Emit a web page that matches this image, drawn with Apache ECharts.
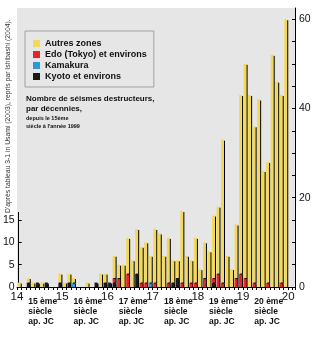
<!DOCTYPE html>
<html>
<head>
<meta charset="utf-8">
<script src="https://cdn.jsdelivr.net/npm/echarts@6/dist/echarts.min.js"></script>
<style>html,body{margin:0;padding:0;background:#fff;}#c{width:330px;height:340px;}</style>
</head>
<body>
<div id="c"></div>
<script>
// Decade start years (1400s ... 1990s)
const decades = ['1400','1410','1420','1430','1440','1450','1460','1470','1480','1490',
                 '1500','1510','1520','1530','1540','1550','1560','1570','1580','1590',
                 '1600','1610','1620','1630','1640','1650','1660','1670','1680','1690',
                 '1700','1710','1720','1730','1740','1750','1760','1770','1780','1790',
                 '1800','1810','1820','1830','1840','1850','1860','1870','1880','1890',
                 '1900','1910','1920','1930','1940','1950','1960','1970','1980','1990'];
const kyoto    = [0,0,1,0,1,0,1,0,0,1, 0,1,0,0,0,0,0,1,0,1, 1,1,0,0,0,0,3,0,0,0, 0,0,0,0,1,2,0,0,0,0, 0,0,0,1,0,0,0,0,0,0, 0,0,0,0,0,0,0,0,0,0];
const kamakura = [0,0,0,0,0,0,0,0,0,0, 0,0,1,0,0,0,0,0,0,0, 0,0,0,0,0,0,0,0,0,1, 0,0,0,0,0,0,0,0,0,0, 0,0,0,0,0,0,0,0,0,0, 0,0,0,0,0,0,0,0,0,0];
const edo      = [0,0,0,0,0,0,0,0,0,0, 0,0,0,0,0,0,0,0,0,0, 0,1,2,0,3,0,0,1,1,0, 1,0,0,1,0,0,1,0,1,1, 0,2,0,1,3,1,0,0,2,3, 2,0,1,0,0,1,0,0,1,0];
const autres   = [1,0,1,1,0,1,0,0,0,2, 1,2,1,0,0,1,0,0,3,2, 0,5,3,5,8,6,10,8,9,6, 12,12,7,10,5,4,16,7,5,10, 4,8,8,14,15,32,7,4,12,40, 48,43,35,42,26,27,52,46,42,60];

const seriesNames = ['Autres zones','Edo (Tokyo) et environs','Kamakura','Kyoto et environs'];
const centuryLabels = [1400,1500,1600,1700,1800,1900,2000];
const centuryNotePos = [1425,1525,1625,1725,1825,1925];
const centuryNotes = ['15 ème\nsiècle\nap. JC','16 ème\nsiècle\nap. JC','17 ème\nsiècle\nap. JC','18 ème\nsiècle\nap. JC','19 ème\nsiècle\nap. JC','20 ème\nsiècle\nap. JC'];
const leftTicks = [0,5,10,15];
const rightTicks = [0,5,10,15,20,25,30,35,40,45,50,55,60];
const rightLabels = [0,20,40,60];
const yMax = 62.5, leftAxisTop = 16.7;

const FONT = 'Arial, "Liberation Sans", sans-serif';
const colors = {autres:'#f2d95c', edo:'#e3242b', kamakura:'#2d9ad6', kyoto:'#1a1a1a'};

// layout (pixels)
const G = {left:17, top:8, bottom:53, right:35};
const plotH = 340 - G.top - G.bottom;

function barSeries(name, arr, color){
  return {
    name: name, type:'bar', stack:'all', xAxisIndex:2, yAxisIndex:1,
    barWidth:3, data: arr, silent:true,
    itemStyle:{color:color, shadowColor:'#000', shadowOffsetX:1, shadowOffsetY:1, shadowBlur:0}
  };
}

const chart = echarts.init(document.getElementById('c'), null, {renderer:'canvas'});
chart.setOption({
  animation:false,
  backgroundColor:'#fff',
  grid:[
    {left:G.left, right:G.right, top:G.top, bottom:G.bottom, show:true, backgroundColor:'#e6e6e6', borderWidth:0},
    {left:G.left, right:42, top:G.top, bottom:G.bottom, show:false},
    {left:G.left, width:10, top:G.top + plotH*(1 - leftAxisTop/yMax), bottom:G.bottom, show:false}
  ],
  title:{
    text:'Nombre de séismes destructeurs,\npar décennies,',
    subtext:'depuis le 15ème\nsiècle à l\'année 1999',
    left:26, top:94, padding:0, itemGap:0,
    textStyle:{fontFamily:FONT, fontSize:8, fontWeight:'bold', color:'#111', lineHeight:10},
    subtextStyle:{fontFamily:FONT, fontSize:5.5, fontWeight:'bold', color:'#111', lineHeight:8}
  },
  legend:{
    data: seriesNames.map((n,i)=>({name:n, icon:'rect', itemStyle:{color:[colors.autres,colors.edo,colors.kamakura,colors.kyoto][i], shadowBlur:0, shadowOffsetX:0, shadowOffsetY:0}})),
    orient:'vertical', left:25, top:31,
    padding:[7,7,5,8], itemGap:0, itemWidth:7, itemHeight:7,
    borderColor:'#a0a0a0', borderWidth:1, backgroundColor:'#e6e6e6',
    textStyle:{fontFamily:FONT, fontSize:9, fontWeight:'bold', color:'#111', lineHeight:11},
    selectedMode:false
  },
  xAxis:[
    {type:'value', gridIndex:0, min:1400, max:2015, interval:10, position:'bottom',
     axisLine:{show:true, lineStyle:{color:'#000', width:1}},
     axisTick:{show:true, length:3, lineStyle:{color:'#000'}},
     axisLabel:{customValues:centuryLabels, formatter:v=>String(v/100), fontFamily:FONT, fontSize:11.5, color:'#111', margin:4},
     splitLine:{show:false}},
    {type:'value', gridIndex:0, min:1400, max:2015, position:'bottom',
     axisLine:{show:false}, axisTick:{show:false},
     axisLabel:{customValues:centuryNotePos, formatter:v=>centuryNotes[centuryNotePos.indexOf(v)],
       align:'left', verticalAlign:'top', fontFamily:FONT, fontSize:8.5, fontWeight:'bold', color:'#111', lineHeight:9.7, margin:10},
     splitLine:{show:false}},
    {type:'category', gridIndex:1, data:decades, boundaryGap:true, show:false},
    {type:'value', gridIndex:2, min:0, max:1, show:false}
  ],
  yAxis:[
    {type:'value', gridIndex:0, position:'right', min:0, max:yMax,
     axisLine:{show:true, lineStyle:{color:'#000', width:1}},
     axisTick:{show:true, inside:true, length:3, customValues:rightTicks, lineStyle:{color:'#000'}},
     axisLabel:{customValues:rightLabels, fontFamily:FONT, fontSize:10.5, color:'#111', margin:4},
     splitLine:{show:false}},
    {type:'value', gridIndex:1, min:0, max:yMax, show:false},
    {type:'value', gridIndex:2, position:'left', min:0, max:leftAxisTop,
     axisLine:{show:true, lineStyle:{color:'#000', width:1}},
     axisTick:{show:true, inside:true, length:3, customValues:leftTicks, lineStyle:{color:'#000'}},
     axisLabel:{customValues:leftTicks, fontFamily:FONT, fontSize:10.5, color:'#111', margin:4},
     splitLine:{show:false}}
  ],
  series:[
    barSeries(seriesNames[3], kyoto, colors.kyoto),
    barSeries(seriesNames[2], kamakura, colors.kamakura),
    barSeries(seriesNames[1], edo, colors.edo),
    barSeries(seriesNames[0], autres, colors.autres)
  ],
  graphic:[
    {type:'text', x:8, y:213, rotation:Math.PI/2, silent:true,
     style:{text:"D'après tableau 3-1 in Usami (2003), repris par Ishibashi (2004).",
       font:'6.8px Arial, "Liberation Sans", sans-serif', fill:'#333',
       align:'left', verticalAlign:'middle'}}
  ]
});
</script>
</body>
</html>
